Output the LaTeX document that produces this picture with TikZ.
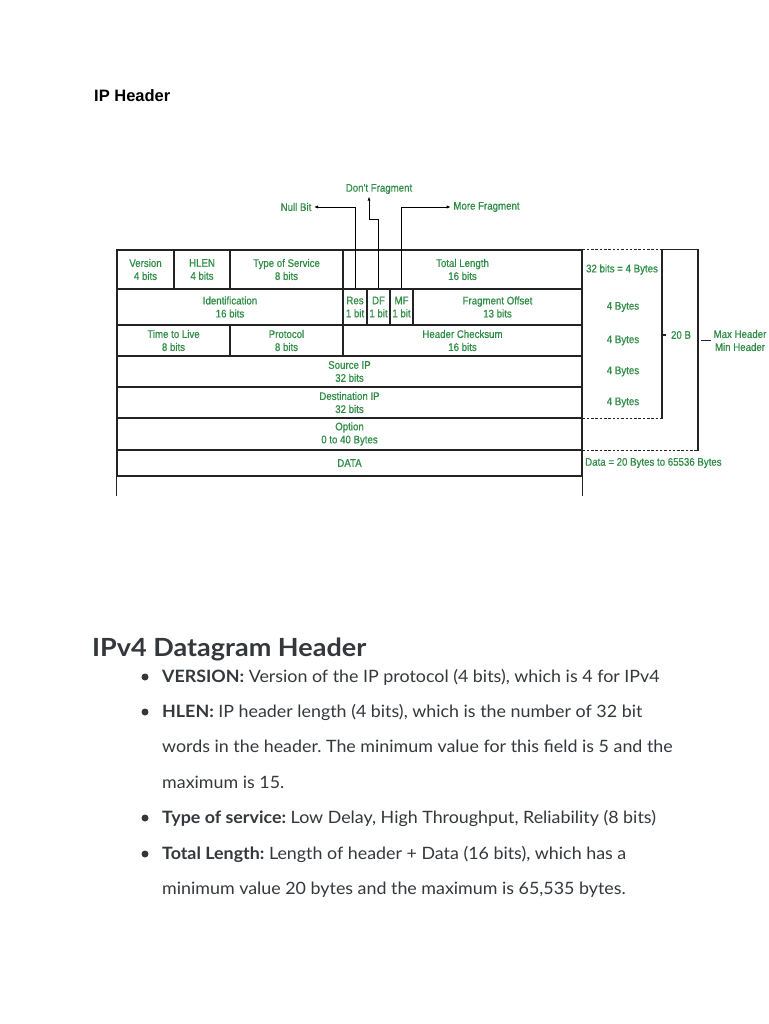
\documentclass[tikz,border=0pt]{standalone}
\usepackage{fontspec}
\setmainfont{Lato}[FakeStretch=1.05]
\newfontfamily\headfont{Lato}[FakeStretch=1.08]
\newfontfamily\narrowsans[FakeStretch=0.88,FakeBold=0.6]{Liberation Sans}
\newfontfamily\titlesans{Liberation Sans}
\usetikzlibrary{arrows.meta,positioning}
\definecolor{gfggreen}{HTML}{2F8D46}
\definecolor{bodygray}{RGB}{52,56,60}
\definecolor{rulegray}{RGB}{35,35,35}
\frenchspacing
\tikzset{
  field/.style={draw=rulegray, line width=1.1pt, inner sep=0pt, align=center,
    text=gfggreen, font=\narrowsans\fontsize{11}{13}\selectfont},
  note/.style={inner sep=2.5pt, align=center, text=gfggreen,
    font=\narrowsans\fontsize{11}{13}\selectfont},
  flagline/.style={draw=black, line width=0.9pt, -{Latex[length=4pt,width=3.2pt]}},
  bracket/.style={draw=rulegray, line width=1.1pt},
  dotted line/.style={bracket, dash pattern=on 2.5pt off 1.8pt},
  item/.style={anchor=base west, inner sep=0pt, text=bodygray, font=\fontsize{17}{20}\selectfont},
  dot/.style={circle, fill=bodygray, inner sep=0pt, minimum size=7pt}
}

\begin{document}
\begin{tikzpicture}[x=1pt, y=-1pt]
  \useasboundingbox (0,0) rectangle (768,1024);
  \fill[white] (0,0) rectangle (768,1024);

  \node[anchor=base west, inner sep=0pt, font=\titlesans\bfseries\fontsize{16.5}{19}\selectfont] (title) at (94,102) {IP Header};

  \node[field, minimum width=57pt, minimum height=39pt] (version) at (145.5,269.5) {Version\\4 bits};
  \node[field, minimum width=56pt, minimum height=39pt] (hlen) at (202,269.5) {HLEN\\4 bits};
  \node[field, minimum width=113pt, minimum height=39pt] (tos) at (286.5,269.5) {Type of Service\\8 bits};
  \node[field, minimum width=239pt, minimum height=39pt] (totlen) at (462.5,269.5) {Total Length\\16 bits};

  \node[field, minimum width=226pt, minimum height=36pt] (ident) at (230,307) {Identification\\16 bits};
  \node[field, minimum width=24pt, minimum height=36pt] (res) at (355,307) {Res\\1 bit};
  \node[field, minimum width=23pt, minimum height=36pt] (dfcell) at (378.5,307) {DF\\1 bit};
  \node[field, minimum width=23pt, minimum height=36pt] (mfcell) at (401.5,307) {MF\\1 bit};
  \node[field, minimum width=169pt, minimum height=36pt] (fragoff) at (497.5,307) {Fragment Offset\\13 bits};

  \node[field, minimum width=113pt, minimum height=31pt] (ttl) at (173.5,340.5) {Time to Live\\8 bits};
  \node[field, minimum width=113pt, minimum height=31pt] (proto) at (286.5,340.5) {Protocol\\8 bits};
  \node[field, minimum width=239pt, minimum height=31pt] (chksum) at (462.5,340.5) {Header Checksum\\16 bits};

  \node[field, minimum width=465pt, minimum height=31pt] (srcip) at (349.5,371.5) {Source IP\\32 bits};
  \node[field, minimum width=465pt, minimum height=31pt] (dstip) at (349.5,402.5) {Destination IP\\32 bits};
  \node[field, minimum width=465pt, minimum height=32pt] (option) at (349.5,434) {Option\\0 to 40 Bytes};
  \node[field, minimum width=465pt, minimum height=26pt] (data) at (349.5,463) {DATA};

  \draw[bracket, line width=1.8pt] (dstip.south west) -- (dstip.south east);
  \draw[bracket, line width=1.8pt] (option.south west) -- (option.south east);
  \draw[bracket] (data.south west) -- ++(0,19);
  \draw[bracket] (data.south east) -- ++(0,19);

  \node[note] (nullbit) at (296,207) {Null Bit};
  \node[note] (dontfrag) at (379,189) {Don't Fragment};
  \node[note] (morefrag) at (486.5,207) {More Fragment};
  \coordinate (dfbend) at (369,219);

  \draw[flagline] (res.north) |- (nullbit.east);
  \draw[flagline] (dfcell.north) |- (dfbend) -- (dfbend |- dontfrag.south);
  \draw[flagline] (mfcell.north) |- (morefrag.west);

  \coordinate (minbar) at (662,0);
  \coordinate (maxbar) at (698,0);
  \draw[dotted line] (totlen.north east) -- (totlen.north east -| minbar);
  \draw[bracket] (totlen.north east -| minbar) -- (totlen.north east -| maxbar) -- (option.south east -| maxbar);
  \draw[bracket] (totlen.north east -| minbar) -- (dstip.south east -| minbar);
  \draw[dotted line] (dstip.south east) -- (dstip.south east -| minbar);
  \draw[dotted line] (option.south east) -- (option.south east -| maxbar);

  \node[note] (bytes1) at (622,269.5) {32 bits = 4 Bytes};
  \node[note] (bytes2) at (623,307) {4 Bytes};
  \node[note] (bytes3) at (623,340.5) {4 Bytes};
  \node[note] (bytes4) at (623,371.5) {4 Bytes};
  \node[note] (bytes5) at (623,402.5) {4 Bytes};
  \node[note] (twentyb) at (681,335) {20 B};
  \draw[bracket, line width=1.8pt] (minbar |- twentyb) -- ++(4,0);
  \node[note] (hdrsize) at (740,340.5) {Max Header\\Min Header};
  \draw[bracket] (maxbar |- hdrsize) ++(3,0) -- (hdrsize.west);
  \node[note, anchor=west, inner sep=0pt] (datasize) at (585,463) {Data = 20 Bytes to 65536 Bytes};

  \node[anchor=base west, inner sep=0pt, text=bodygray, font=\headfont\bfseries\fontsize{25}{29}\selectfont] (heading) at (92,656) {IPv4 Datagram Header};

  \node[dot] (dot1) at (145,677) {};
  \node[item] (line1) at (162,682.5) {\textbf{VERSION:} Version of the IP protocol (4 bits), which is 4 for IPv4};
  \node[dot] (dot2) at (145,712) {};
  \node[item] (line2) at (162,717.5) {\textbf{HLEN:} IP header length (4 bits), which is the number of 32 bit};
  \node[item] (line3) at (162,752.5) {words in the header. The minimum value for this field is 5 and the};
  \node[item] (line4) at (162,788) {maximum is 15.};
  \node[dot] (dot3) at (145,818) {};
  \node[item] (line5) at (162,823.5) {\textbf{Type of service:} Low Delay, High Throughput, Reliability (8 bits)};
  \node[dot] (dot4) at (145,854) {};
  \node[item] (line6) at (162,859) {\textbf{Total Length:} Length of header + Data (16 bits), which has a};
  \node[item] (line7) at (162,894.5) {minimum value 20 bytes and the maximum is 65,535 bytes.};
\end{tikzpicture}
\end{document}
